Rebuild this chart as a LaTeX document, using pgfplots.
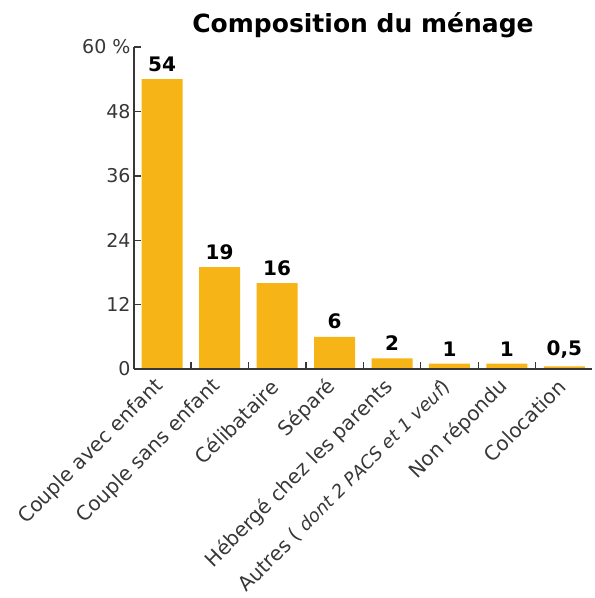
\documentclass[border=0pt]{standalone}
\usepackage{pgfplots}
\pgfplotsset{compat=1.18}
\usepackage{fontspec}
\setmainfont{DejaVu Sans}
\definecolor{barc}{RGB}{247,180,22}
\definecolor{axc}{RGB}{55,55,55}
\begin{document}
\begin{tikzpicture}[x=1pt,y=1pt]
\useasboundingbox (0,0) rectangle (595,598);
\begin{axis}[
  at={(134pt,229pt)}, anchor=south west,
  scale only axis, width=458pt, height=322pt,
  xmin=-0.49, xmax=7.48, ymin=0, ymax=60,
  axis x line*=bottom, axis y line*=left,
  axis line style={axc, line width=1.4pt},
  axis on top,
  tick style={draw=axc, line width=1.4pt},
  ytick={0,12,24,36,48,60},
  yticklabels={0,12,24,36,48,60 \%},
  /pgf/number format/assume math mode=true,
  yticklabel style={font=\fontsize{19}{19}\selectfont, text=axc},
  major tick length=7pt,
  tick align=inside,
  xtick={0.5,1.5,2.5,3.5,4.5,5.5,6.5},
  xticklabels={},
  extra x ticks={0,1,2,3,4,5,6,7},
  extra x tick labels={Couple avec enfant, Couple sans enfant, Célibataire, Séparé, Hébergé chez les parents, {Autres ( {\fontsize{18}{18}\selectfont\itshape dont 2 PACS et 1 veuf})}, Non répondu, Colocation},
  extra x tick style={tick style={draw=none}, xticklabel style={xshift=0pt, yshift=-12pt, rotate=45, anchor=east, font=\fontsize{20}{20}\selectfont, text=axc}},
  title={\bfseries Composition du ménage},
  title style={font=\fontsize{25}{25}\selectfont, yshift=0pt},
  clip=false,
]
\addplot[ybar, bar width=41pt, fill=barc, draw=none,
  nodes near coords, point meta=explicit symbolic,
  every node near coord/.style={font=\bfseries\fontsize{20}{20}\selectfont, text=black, yshift=4pt}]
  table[meta=lab] {
x y lab
0 54 54
1 19 19
2 16 16
3 6 6
4 2 2
5 1 1
6 1 1
7 0.5 {0,5}
};
\end{axis}
\end{tikzpicture}
\end{document}
